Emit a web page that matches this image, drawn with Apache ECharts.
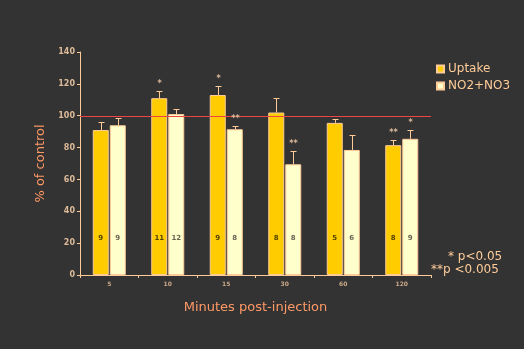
<!DOCTYPE html>
<html><head><meta charset="utf-8">
<script src="https://cdn.jsdelivr.net/npm/echarts@6/dist/echarts.min.js"></script>
<style>html,body{margin:0;padding:0;background:#333333;}#c{width:524px;height:349px;}</style>
</head><body><div id="c"></div>
<script>
const categories = ['5', '10', '15', '30', '60', '120'];
const uptake = [91, 111, 113, 102, 95.5, 81.5];
const uptakeErr = [96, 115.5, 118.5, 111, 97.7, 84.5];
const no3 = [94, 101, 91.5, 69.5, 78.5, 85.5];
const no3Err = [98.5, 104, 93.5, 78, 87.7, 91];
const uptakeN = ['9', '11', '9', '8', '5', '8'];
const no3N = ['9', '12', '8', '8', '6', '9'];
const uptakeSig = ['', '*', '*', '', '', '**'];
const no3Sig = ['', '', '**', '**', '', '*'];
const yTicks = [0, 20, 40, 60, 80, 100, 120, 140];
const refLine = 100;

const peach = '#ffcc99';
const chart = echarts.init(document.getElementById('c'));

function errSeries(vals, errs, sigs, offset) {
  return {
    type: 'custom',
    z: 5,
    data: vals.map((v, i) => [i, v, errs[i]]),
    renderItem: function (params, api) {
      const i = api.value(0);
      const top = api.coord([i, api.value(1)]);
      const e = api.coord([i, api.value(2)]);
      const x = Math.round(top[0] + offset) + 0.5;
      const ey = Math.round(e[1]) + 0.5;
      const children = [
        {type: 'line', shape: {x1: x, y1: top[1], x2: x, y2: ey}, style: {stroke: peach, lineWidth: 1}},
        {type: 'line', shape: {x1: x - 3, y1: ey, x2: x + 3, y2: ey}, style: {stroke: peach, lineWidth: 1}}
      ];
      const s = sigs[i];
      if (s) {
        children.push({type: 'text', x: x, y: ey - 4, style: {text: s, fill: '#ddbb99', font: 'bold 8px "DejaVu Sans"', align: 'center', verticalAlign: 'bottom'}});
      }
      return {type: 'group', children: children};
    }
  };
}

// reference line across the plot, over the bars
const refSeries = {
  type: 'custom', z: 4, silent: true,
  data: [[0, refLine]],
  renderItem: function (params, api) {
    const p = api.coord([0, api.value(1)]);
    const cs = params.coordSys;
    const y = Math.round(p[1]) + 0.5;
    return {type: 'line', shape: {x1: cs.x, y1: y, x2: cs.x + cs.width, y2: y},
      style: {stroke: '#ee4444', lineWidth: 1}};
  }
};

chart.setOption({
  backgroundColor: '#333333',
  animation: false,
  grid: {left: 80, right: 93, top: 52, bottom: 74},
  legend: {
    left: 431, top: 58, orient: 'vertical', itemWidth: 7, itemHeight: 7, itemGap: 5,
    icon: 'rect',
    textStyle: {color: peach, fontSize: 12, fontFamily: 'DejaVu Sans', padding: [0, 0, 0, -1]},
    data: ['Uptake', 'NO2+NO3']
  },
  xAxis: {
    type: 'category', data: categories,
    name: 'Minutes post-injection', nameLocation: 'middle', nameGap: 26,
    nameTextStyle: {color: '#ff9966', fontSize: 13, fontFamily: 'DejaVu Sans'},
    axisLine: {lineStyle: {color: peach, width: 1}},
    axisTick: {show: true, length: 3, lineStyle: {color: peach}},
    axisLabel: {color: '#ccaa88', fontSize: 6, fontFamily: 'DejaVu Sans', fontWeight: 'bold', margin: 6}
  },
  yAxis: {
    type: 'value', min: 0, max: 140, interval: 20,
    name: '% of control', nameLocation: 'middle', nameGap: 30, nameRotate: 90,
    nameTextStyle: {color: '#ff9966', fontSize: 13, fontFamily: 'DejaVu Sans'},
    axisLine: {show: true, lineStyle: {color: peach, width: 1}},
    axisTick: {show: true, length: 3, lineStyle: {color: peach}},
    splitLine: {show: false},
    axisLabel: {color: '#ddbb99', fontSize: 8, fontFamily: 'DejaVu Sans', fontWeight: 'bold', margin: 5,
      formatter: v => yTicks.includes(v) ? String(v) : ''}
  },
  series: [
    {
      name: 'Uptake', type: 'bar', data: uptake, barWidth: 16, barGap: '6.25%', z: 2,
      itemStyle: {color: '#ffcc00', borderColor: peach, borderWidth: 1},
      label: {show: true, position: 'insideBottom', distance: 33,
        formatter: p => uptakeN[p.dataIndex], color: '#554400', fontSize: 7, fontFamily: 'DejaVu Sans', fontWeight: 'bold'}
    },
    {
      name: 'NO2+NO3', type: 'bar', data: no3, barWidth: 16, z: 2,
      itemStyle: {color: '#ffffcc', borderColor: peach, borderWidth: 1},
      label: {show: true, position: 'insideBottom', distance: 33,
        formatter: p => no3N[p.dataIndex], color: '#666655', fontSize: 7, fontFamily: 'DejaVu Sans', fontWeight: 'bold'}
    },
    refSeries,
    errSeries(uptake, uptakeErr, uptakeSig, -8.5),
    errSeries(no3, no3Err, no3Sig, 8.5)
  ],
  graphic: [
    {type: 'text', left: 448, top: 251, style: {text: '* p<0.05', fill: peach, font: '12px "DejaVu Sans"'}},
    {type: 'text', left: 431, top: 264, style: {text: '**p <0.005', fill: peach, font: '12px "DejaVu Sans"'}}
  ]
});
</script></body></html>
